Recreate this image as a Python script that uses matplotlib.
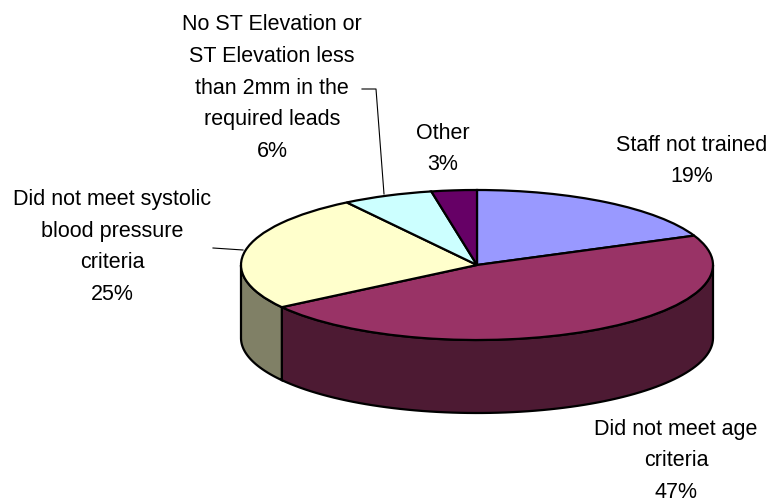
import numpy as np
import matplotlib
matplotlib.use('Agg')
import matplotlib.pyplot as plt
from matplotlib.patches import Polygon

W, H = 768, 501
labels = ['Staff not trained', 'Did not meet age\ncriteria',
          'Did not meet systolic\nblood pressure\ncriteria',
          'No ST Elevation or\nST Elevation less\nthan 2mm in the\nrequired leads',
          'Other']
values = [18.6, 46.9, 25.2, 6.2, 3.1]
colors = ['#9999FF', '#993366', '#FFFFCC', '#CCFFFF', '#660066']
side_colors = ['#4D4D80', '#4D1A33', '#808066', '#668080', '#330033']

# pixel geometry of the tilted pie
cx, cy = 477, 265
rx, ry = 236, 75
depth = 73

plt.rcParams['font.family'] = 'Liberation Sans'
fig = plt.figure(figsize=(W/100, H/100), dpi=100)
ax = fig.add_axes([0, 0, 1, 1])

# top face, unit circle squeezed by the axis limits
ax.pie(values, colors=colors, startangle=90, counterclock=False,
    wedgeprops={'edgecolor': 'black', 'linewidth': 1.6})
ax.set_aspect('auto')
ax.set_xlim(-cx/rx, (W-cx)/rx)
ax.set_ylim(-(H-cy)/ry, cy/ry)
ax.axis('off')

# side wall, only the front half of the rim shows
d = depth/ry
edges = 90 - np.cumsum([0] + values)*3.6
for i in range(len(values)):
    a0, a1 = edges[i], edges[i+1]
    lo, hi = max(a1, -180), min(a0, 0)
    if lo >= hi:
        continue
    t = np.radians(np.linspace(hi, lo, 80))
    x, y = np.cos(t), np.sin(t)
    pts = np.r_[np.c_[x, y], np.c_[x, y-d][::-1]]
    ax.add_patch(Polygon(pts, closed=True, fc=side_colors[i], ec='black', lw=1.6, zorder=0.5))

def px(x, y):
    return (x-cx)/rx, (cy-y)/ry

positions = [(692, 161), (676, 461), (112, 247), (272, 88), (443, 149)]
for lab, v, (x, y) in zip(labels, values, positions):
    ax.text(*px(x, y), f'{lab}\n{round(v)}%', ha='center', va='center', fontsize=15.5,
        linespacing=1.67, color='black', clip_on=False)

# leader lines
leaders = [[(384, 194), (376, 89), (362, 89)], [(243, 250), (213, 248)]]
for line in leaders:
    xy = np.array([px(*p) for p in line])
    ax.plot(xy[:, 0], xy[:, 1], color='black', lw=0.8)

fig.savefig('out.png', dpi=100)
